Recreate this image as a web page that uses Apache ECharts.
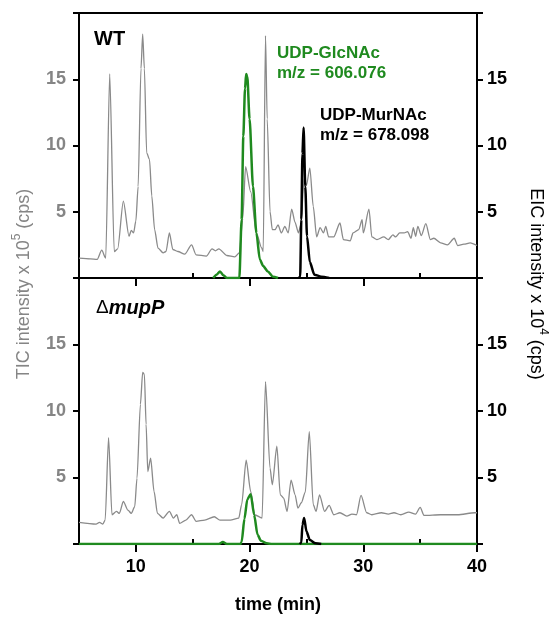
<!DOCTYPE html>
<html><head><meta charset="utf-8">
<script src="https://cdn.jsdelivr.net/npm/echarts@6/dist/echarts.min.js"></script>
<style>html,body{margin:0;padding:0;background:#fff}#c{width:553px;height:618px}</style>
</head><body><div id="c"></div>
<script>
// ---- data ----
const xMajorTicks = [10, 20, 30, 40];
const xMinorTicks = [15, 25, 35];

// WT total ion chromatogram (x 10^5 cps)
const wtTicTime = [5.0,6.0,6.6,7.0,7.35,7.7,8.1,8.4,8.9,9.4,9.6,9.8,10.0,10.2,10.45,10.6,10.75,10.95,11.2,11.4,11.65,11.95,12.4,12.65,12.95,13.25,13.7,14.3,14.9,15.3,16.2,16.7,17.0,17.3,18.0,18.7,19.1,19.4,19.65,20.1,20.6,21.05,21.2,21.4,21.55,21.8,22.0,22.25,22.5,22.8,23.1,23.4,23.7,24.0,24.3,24.5,24.8,25.0,25.3,25.6,25.9,26.2,26.5,26.7,26.95,27.4,27.95,28.25,28.85,29.1,29.6,29.9,30.0,30.5,30.75,31.2,31.8,32.2,32.6,32.85,33.2,33.6,33.9,34.2,34.4,34.6,34.8,35.1,35.5,35.9,36.2,36.8,37.4,38.0,38.3,38.85,39.4,40.0];
const wtTicValue = [1.5,1.45,1.4,2.1,1.5,15.4,2.0,2.2,5.8,3.15,3.6,3.4,4.3,6.9,15.8,18.4,15.8,9.45,8.95,6.2,3.65,2.25,1.9,2.0,3.4,2.15,2.0,1.8,2.5,1.75,1.65,2.2,2.05,2.2,1.7,1.6,1.9,4.5,8.4,6.5,3.4,2.3,2.0,18.3,12.0,5.0,3.65,3.65,4.0,3.4,3.9,3.4,5.2,4.2,3.4,4.0,7.5,7.0,8.3,5.4,3.1,3.8,3.4,3.9,3.1,3.1,4.15,2.9,2.8,3.4,3.65,4.4,3.4,5.2,3.1,2.9,3.1,2.9,3.25,3.1,3.4,3.4,3.5,3.0,3.8,3.15,3.9,3.2,4.1,2.9,3.0,2.65,2.5,3.0,2.45,2.55,2.65,2.45];

// WT EIC UDP-GlcNAc (x 10^4 cps)
const wtGlcTime = [16.8,17.1,17.4,17.7,18.0,19.1,19.3,19.45,19.6,19.7,19.8,20.0,20.3,20.6,20.9,21.2,21.6,22.05,22.5];
const wtGlcValue = [0,0.25,0.5,0.2,0,0,4.4,10.7,14.3,15.4,15.2,12.0,6.9,3.4,1.4,0.9,0.5,0.1,0];

// WT EIC UDP-MurNAc (x 10^4 cps)
const wtMurTime = [24.3,24.45,24.55,24.65,24.75,24.9,25.05,25.3,25.7,26.3,27.0];
const wtMurValue = [0,0.1,4.4,9.4,11.35,6.9,3.15,1.2,0.25,0.1,0];

// mupP mutant TIC (x 10^5 cps)
const mutTicTime = [5.0,6.5,6.8,7.1,7.3,7.6,7.9,8.3,8.55,8.9,9.3,9.6,9.9,10.1,10.4,10.6,10.75,10.9,11.05,11.3,11.6,11.9,12.4,12.95,13.3,13.6,13.85,14.4,14.9,15.3,16.05,16.9,17.4,18.3,19.05,19.3,19.7,20.1,20.45,21.1,21.4,21.8,22.0,22.4,22.7,23.0,23.3,23.65,24.0,24.25,24.55,24.9,25.25,25.6,25.85,26.15,26.6,27.0,27.4,27.95,28.55,29.0,29.4,29.8,30.3,30.75,31.6,32.2,32.7,33.3,34.0,34.6,35.0,35.35,36.8,38.3,39.8,40.0];
const mutTicValue = [1.63,1.5,1.63,1.5,1.8,8.0,2.2,2.45,2.3,3.2,2.55,2.3,2.8,4.95,10.5,12.9,12.75,9.0,5.45,6.45,3.95,2.3,1.95,2.45,1.95,2.2,1.55,1.8,2.2,1.7,1.8,2.05,1.8,1.8,1.95,2.95,6.3,3.95,2.2,1.95,12.2,5.7,4.45,7.35,3.7,3.45,2.45,4.8,3.7,2.7,3.1,3.9,8.45,2.95,2.45,3.7,2.45,2.9,2.2,2.35,2.1,2.25,2.2,3.65,2.35,2.2,2.35,2.25,2.35,2.2,2.4,2.25,2.75,2.15,2.2,2.2,2.35,2.35];

// mupP mutant EIC UDP-GlcNAc
const mutGlcTime = [5.0,17.3,17.65,18.0,19.2,19.3,19.55,19.8,20.1,20.4,20.7,21.0,21.5,22.0,40.0];
const mutGlcValue = [0,0,0.15,0,0,0.15,1.9,3.35,3.75,2.2,0.7,0.25,0.05,0,0];

// mupP mutant EIC UDP-MurNAc
const mutMurTime = [24.4,24.55,24.65,24.8,25.0,25.3,25.8,26.3];
const mutMurValue = [0,0.1,1.45,1.95,0.95,0.3,0.05,0];

// ---- chart ----
const FONT = 'Liberation Sans, Arial, Helvetica, sans-serif';
const GRAY = '#858585';
const GREEN = '#1f8a1f';
const pairs = (t, v) => t.map((x, i) => [x, v[i]]);

function xAxes(grid, withLabels) {
  return [
    {
      type: 'value', gridIndex: grid, min: 5, max: 40, interval: 5,
      axisLine: { onZero: false, lineStyle: { color: '#000', width: 2 } },
      axisTick: { show: true, length: 8, customValues: xMajorTicks, lineStyle: { color: '#000', width: 2 } },
      axisLabel: {
        show: withLabels, customValues: xMajorTicks, margin: 14,
        color: '#000', fontWeight: 'bold', fontSize: 18, fontFamily: FONT,
        formatter: v => (v % 10 === 0 ? String(v) : '')
      },
      splitLine: { show: false }
    },
    {
      type: 'value', gridIndex: grid, min: 5, max: 40, interval: 5,
      axisLine: { show: false },
      axisTick: { show: true, length: 5, customValues: xMinorTicks, lineStyle: { color: '#000', width: 2 } },
      axisLabel: { show: false },
      splitLine: { show: false }
    }
  ];
}

function yAxes(grid) {
  const fmt = v => (v === 0 || v === 20 ? '' : String(v));
  return [
    {
      type: 'value', gridIndex: grid, position: 'left', min: 0, max: 20, interval: 5,
      axisLine: { show: true, onZero: false, lineStyle: { color: '#000', width: 2 } },
      axisTick: { show: true, length: 6, lineStyle: { color: '#000', width: 2 } },
      axisLabel: { margin: 13, color: GRAY, fontWeight: 'bold', fontSize: 18, fontFamily: FONT, formatter: fmt },
      splitLine: { show: false }
    },
    {
      type: 'value', gridIndex: grid, position: 'right', min: 0, max: 20, interval: 5,
      axisLine: { show: true, onZero: false, lineStyle: { color: '#000', width: 2 } },
      axisTick: { show: true, length: 6, lineStyle: { color: '#000', width: 2 } },
      axisLabel: { margin: 10, color: '#000', fontWeight: 'bold', fontSize: 18, fontFamily: FONT, formatter: fmt },
      splitLine: { show: false }
    }
  ];
}

function line(data, xi, yi, color, width, z) {
  return {
    type: 'line', xAxisIndex: xi, yAxisIndex: yi, data: data,
    showSymbol: false, symbol: 'none', smooth: 0.25, smoothMonotone: 'x',
    lineStyle: { color: color, width: width }, z: z, silent: true
  };
}

const chart = echarts.init(document.getElementById('c'), null, { renderer: 'canvas' });
chart.setOption({
  animation: false,
  backgroundColor: '#fff',
  grid: [
    { left: 79, top: 13, width: 398, height: 265, show: true, borderColor: '#000', borderWidth: 2, containLabel: false },
    { left: 79, top: 278, width: 398, height: 266, containLabel: false }
  ],
  xAxis: [...xAxes(0, false), ...xAxes(1, true)],
  yAxis: [...yAxes(0), ...yAxes(1)],
  series: [
    line(pairs(wtTicTime, wtTicValue), 0, 0, '#8a8a8a', 1.3, 2),
    line(pairs(wtGlcTime, wtGlcValue), 0, 1, GREEN, 2.5, 3),
    line(pairs(wtMurTime, wtMurValue), 0, 1, '#000', 2.5, 4),
    line(pairs(mutTicTime, mutTicValue), 2, 2, '#8a8a8a', 1.3, 2),
    line(pairs(mutGlcTime, mutGlcValue), 2, 3, GREEN, 2.5, 3),
    line(pairs(mutMurTime, mutMurValue), 2, 3, '#000', 2.5, 4)
  ],
  graphic: [
    { type: 'text', x: 94, y: 39, style: { text: 'WT', fill: '#000', font: 'bold 20px ' + FONT, textVerticalAlign: 'middle' } },
    { type: 'text', x: 96, y: 308, style: {
        text: '{n|Δ}{b|mupP}', textVerticalAlign: 'middle',
        rich: { n: { fontSize: 19, fontFamily: FONT, fill: '#000', color: '#000' },
                b: { fontSize: 20, fontFamily: FONT, fontWeight: 'bold', fontStyle: 'italic', fill: '#000', color: '#000' } } } },
    { type: 'text', x: 277, y: 53, style: { text: 'UDP-GlcNAc', fill: GREEN, font: 'bold 17px ' + FONT, textVerticalAlign: 'middle' } },
    { type: 'text', x: 277, y: 73, style: { text: 'm/z = 606.076', fill: GREEN, font: 'bold 17px ' + FONT, textVerticalAlign: 'middle' } },
    { type: 'text', x: 320, y: 115, style: { text: 'UDP-MurNAc', fill: '#000', font: 'bold 17px ' + FONT, textVerticalAlign: 'middle' } },
    { type: 'text', x: 320, y: 135, style: { text: 'm/z = 678.098', fill: '#000', font: 'bold 17px ' + FONT, textVerticalAlign: 'middle' } },
    { type: 'text', x: 22, y: 284, rotation: Math.PI / 2, style: {
        text: '{a|TIC intensity x 10}{s|5}{a| (cps)}', textAlign: 'center', textVerticalAlign: 'middle',
        rich: { a: { fontSize: 18, fontFamily: FONT, fill: GRAY, color: GRAY, lineHeight: 22, verticalAlign: 'bottom' },
                s: { fontSize: 12, fontFamily: FONT, fill: GRAY, color: GRAY, lineHeight: 22, verticalAlign: 'top' } } } },
    { type: 'text', x: 538, y: 284, rotation: -Math.PI / 2, style: {
        text: '{a|EIC intensity x 10}{s|4}{a| (cps)}', textAlign: 'center', textVerticalAlign: 'middle',
        rich: { a: { fontSize: 18, fontFamily: FONT, fill: '#000', color: '#000', lineHeight: 22, verticalAlign: 'bottom' },
                s: { fontSize: 12, fontFamily: FONT, fill: '#000', color: '#000', lineHeight: 22, verticalAlign: 'top' } } } },
    { type: 'text', x: 278, y: 605, style: { text: 'time (min)', fill: '#000', font: 'bold 18px ' + FONT, textAlign: 'center', textVerticalAlign: 'middle' } }
  ]
});
</script>
</body></html>
